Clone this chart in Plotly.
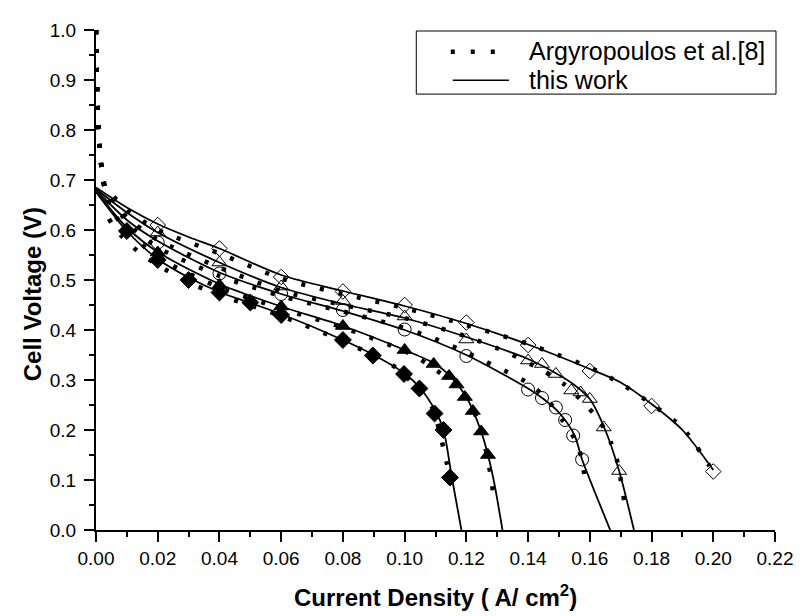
import plotly.graph_objects as go

# ---------------- data ----------------
# shared steep activation start of the Argyropoulos et al. curves
arg_start_x = [0.0, 0.0002, 0.0005, 0.001, 0.0018, 0.0029]
arg_start_y = [1.0, 0.93, 0.85, 0.78, 0.723, 0.684]

# "this work" model curves (solid)
d1_line_x = [0, 0.01, 0.02, 0.03, 0.04, 0.06, 0.08, 0.10, 0.12, 0.14, 0.16, 0.17, 0.18, 0.19, 0.20]
d1_line_y = [0.685, 0.645, 0.612, 0.586, 0.563, 0.51, 0.478, 0.448, 0.413, 0.371, 0.322, 0.295, 0.252, 0.2, 0.12]
t1_line_x = [0, 0.01, 0.02, 0.04, 0.06, 0.08, 0.10, 0.12, 0.14, 0.15, 0.155, 0.16, 0.165, 0.1695, 0.1743]
t1_line_y = [0.682, 0.635, 0.595, 0.535, 0.485, 0.452, 0.424, 0.386, 0.342, 0.31, 0.29, 0.262, 0.2, 0.118, 0.0]
c1_line_x = [0, 0.01, 0.02, 0.04, 0.06, 0.08, 0.10, 0.12, 0.14, 0.145, 0.15, 0.155, 0.1575, 0.162, 0.1666]
c1_line_y = [0.68, 0.62, 0.578, 0.515, 0.472, 0.438, 0.4, 0.35, 0.283, 0.262, 0.235, 0.19, 0.141, 0.07, 0.0]
t2_line_x = [0, 0.01, 0.02, 0.04, 0.06, 0.08, 0.10, 0.11, 0.115, 0.12, 0.1248, 0.127, 0.1291, 0.1317]
t2_line_y = [0.678, 0.605, 0.556, 0.492, 0.447, 0.408, 0.36, 0.332, 0.306, 0.266, 0.197, 0.15, 0.092, 0.0]
d2_line_x = [0, 0.01, 0.02, 0.03, 0.04, 0.05, 0.06, 0.08, 0.09, 0.10, 0.105, 0.11, 0.1126, 0.1153, 0.1184]
d2_line_y = [0.676, 0.598, 0.542, 0.505, 0.476, 0.454, 0.432, 0.38, 0.35, 0.313, 0.284, 0.238, 0.2, 0.105, 0.0]

# Argyropoulos et al. [8] curves (dotted), after the shared start
d1_arg_x = [0.006, 0.01, 0.02, 0.04, 0.06, 0.08, 0.10, 0.12, 0.14, 0.16, 0.17, 0.18, 0.19, 0.1988]
d1_arg_y = [0.665, 0.64, 0.60, 0.553, 0.503, 0.472, 0.444, 0.41, 0.372, 0.325, 0.293, 0.252, 0.205, 0.128]
t1_arg_x = [0.006, 0.01, 0.02, 0.04, 0.06, 0.08, 0.10, 0.12, 0.1333, 0.1456, 0.152, 0.1578, 0.1632, 0.1669, 0.169, 0.1711]
t1_arg_y = [0.66, 0.625, 0.58, 0.525, 0.478, 0.45, 0.424, 0.387, 0.355, 0.316, 0.29, 0.256, 0.218, 0.174, 0.135, 0.059]
c1_arg_x = [0.006, 0.01, 0.02, 0.04, 0.06, 0.08, 0.0961, 0.1088, 0.12, 0.1403, 0.1466, 0.1514, 0.155, 0.1573, 0.1584]
c1_arg_y = [0.655, 0.615, 0.565, 0.508, 0.468, 0.437, 0.411, 0.385, 0.355, 0.293, 0.258, 0.217, 0.183, 0.145, 0.102]
t2_arg_x = [0.005, 0.01, 0.02, 0.04, 0.06, 0.08, 0.10, 0.1051, 0.1104, 0.12, 0.125, 0.128, 0.1288]
t2_arg_y = [0.64, 0.6, 0.545, 0.485, 0.443, 0.405, 0.358, 0.341, 0.319, 0.268, 0.195, 0.105, 0.066]
d2_arg_x = [0.004, 0.0087, 0.0146, 0.02, 0.03, 0.04, 0.06, 0.08, 0.0971, 0.1088, 0.1136, 0.115]
d2_arg_y = [0.625, 0.585, 0.552, 0.53, 0.495, 0.47, 0.428, 0.378, 0.325, 0.247, 0.135, 0.1]

# experimental points
d1_pts_x = [0.02, 0.04, 0.06, 0.08, 0.10, 0.12, 0.14, 0.16, 0.18, 0.20]
d1_pts_y = [0.61, 0.563, 0.506, 0.477, 0.45, 0.415, 0.37, 0.318, 0.248, 0.117]
t1_pts_x = [0.02, 0.04, 0.06, 0.08, 0.10, 0.12, 0.14, 0.1445, 0.149, 0.154, 0.157, 0.16, 0.1645, 0.1695]
t1_pts_y = [0.595, 0.535, 0.487, 0.458, 0.427, 0.381, 0.339, 0.332, 0.312, 0.279, 0.275, 0.262, 0.205, 0.118]
c1_pts_x = [0.02, 0.04, 0.06, 0.08, 0.10, 0.12, 0.14, 0.1445, 0.149, 0.152, 0.1546, 0.1575]
c1_pts_y = [0.575, 0.513, 0.472, 0.44, 0.401, 0.348, 0.281, 0.264, 0.245, 0.220, 0.189, 0.141]
t2_pts_x = [0.02, 0.04, 0.06, 0.08, 0.10, 0.1094, 0.1144, 0.1168, 0.1195, 0.1221, 0.1248, 0.127]
t2_pts_y = [0.555, 0.49, 0.447, 0.408, 0.36, 0.332, 0.308, 0.291, 0.266, 0.238, 0.197, 0.150]
d2_pts_x = [0.01, 0.02, 0.03, 0.04, 0.05, 0.06, 0.08, 0.0897, 0.0998, 0.1048, 0.1097, 0.1126, 0.1147]
d2_pts_y = [0.598, 0.54, 0.50, 0.475, 0.455, 0.43, 0.38, 0.349, 0.312, 0.283, 0.233, 0.2, 0.105]

x_ticks = [0.00, 0.02, 0.04, 0.06, 0.08, 0.10, 0.12, 0.14, 0.16, 0.18, 0.20, 0.22]
y_ticks = [0.0, 0.1, 0.2, 0.3, 0.4, 0.5, 0.6, 0.7, 0.8, 0.9, 1.0]
legend_labels = ["Argyropoulos et al.[8]", "this work"]
x_title = "<b>Current Density ( A/ cm<sup>2</sup>)</b>"
y_title = "<b>Cell Voltage (V)</b>"

FONT = "Arial, Liberation Sans, sans-serif"
OFF = 8  # page body margin
L, R, T, B = 96, 785, 23, 530  # plot area in screen pixels
W, H = R - L, B - T
FIG_W, FIG_H = 805 - OFF, 616 - OFF


def px(x):
    return (x - L) / W


def py(y):
    return (B - y) / H


fig = go.Figure()

# dotted curves (Argyropoulos)
for ax, ay in [(d1_arg_x, d1_arg_y), (t1_arg_x, t1_arg_y), (c1_arg_x, c1_arg_y),
               (t2_arg_x, t2_arg_y), (d2_arg_x, d2_arg_y)]:
    fig.add_trace(go.Scatter(x=arg_start_x + ax, y=arg_start_y + ay, mode="lines",
                             line=dict(color="black", width=4.5, dash="4px,15px", shape="spline", smoothing=0.6),
                             showlegend=False, hoverinfo="skip"))

# solid curves (this work)
for lx, ly in [(d1_line_x, d1_line_y), (t1_line_x, t1_line_y), (c1_line_x, c1_line_y),
               (t2_line_x, t2_line_y), (d2_line_x, d2_line_y)]:
    fig.add_trace(go.Scatter(x=lx, y=ly, mode="lines",
                             line=dict(color="black", width=1.8, shape="spline", smoothing=0.8),
                             showlegend=False, hoverinfo="skip"))

# markers
marker_sets = [
    (d1_pts_x, d1_pts_y, "diamond-open", 12),
    (t1_pts_x, t1_pts_y, "triangle-up-open", 13),
    (c1_pts_x, c1_pts_y, "circle-open", 13),
    (t2_pts_x, t2_pts_y, "triangle-up", 13),
    (d2_pts_x, d2_pts_y, "diamond", 13),
]
for mx, my, sym, sz in marker_sets:
    fig.add_trace(go.Scatter(x=mx, y=my, mode="markers",
                             marker=dict(symbol=sym, size=sz, color="black",
                                         line=dict(color="black", width=1)),
                             showlegend=False, cliponaxis=False))

# manual legend box
shapes = [
    dict(type="rect", xref="paper", yref="paper", x0=px(421), x1=px(786),
         y0=py(88), y1=py(24), line=dict(color="black", width=1), fillcolor="white", layer="above"),
    dict(type="line", xref="paper", yref="paper", x0=px(456), x1=px(505),
         y0=py(45), y1=py(45), line=dict(color="black", width=4.5, dash="4px,16px"), layer="above"),
    dict(type="line", xref="paper", yref="paper", x0=px(458), x1=px(515),
         y0=py(74), y1=py(74), line=dict(color="black", width=1.5), layer="above"),
]
annotations = [
    dict(text=legend_labels[0], xref="paper", yref="paper", x=px(533), y=py(44),
         xanchor="left", yanchor="middle", showarrow=False, font=dict(family=FONT, size=25, color="black")),
    dict(text=legend_labels[1], xref="paper", yref="paper", x=px(533), y=py(74),
         xanchor="left", yanchor="middle", showarrow=False, font=dict(family=FONT, size=25, color="black")),
    dict(text=x_title, xref="paper", yref="paper", x=px(441), y=py(597),
         xanchor="center", yanchor="middle", showarrow=False, font=dict(family=FONT, size=24, color="black")),
    dict(text=y_title, xref="paper", yref="paper", x=px(31), y=py(291), textangle=-90,
         xanchor="center", yanchor="middle", showarrow=False, font=dict(family=FONT, size=24, color="black")),
]

fig.update_layout(
    width=FIG_W, height=FIG_H,
    margin=dict(l=L - OFF, r=805 - R, t=T - OFF, b=616 - B),
    plot_bgcolor="white", paper_bgcolor="white",
    font=dict(family=FONT, color="black"),
    shapes=shapes, annotations=annotations,
    showlegend=False,
)
fig.update_xaxes(
    range=[0, 0.22], tickvals=x_ticks, ticktext=[f"{v:.2f}" for v in x_ticks],
    showgrid=False, zeroline=False, showline=True, linecolor="black", linewidth=2,
    ticks="outside", ticklen=10, tickwidth=2, tickcolor="black",
    minor=dict(dtick=0.01, ticks="outside", ticklen=5, tickwidth=2, tickcolor="black", showgrid=False),
    tickfont=dict(family=FONT, size=19, color="black"),
)
fig.update_yaxes(
    range=[0, 1.0], tickvals=y_ticks, ticktext=[f"{v:.1f}" for v in y_ticks],
    showgrid=False, zeroline=False, showline=True, linecolor="black", linewidth=2,
    ticks="outside", ticklen=10, tickwidth=2, tickcolor="black",
    minor=dict(dtick=0.05, ticks="outside", ticklen=5, tickwidth=2, tickcolor="black", showgrid=False),
    tickfont=dict(family=FONT, size=19, color="black"),
    ticklabelstandoff=4,
)

fig.write_html("out.html")
